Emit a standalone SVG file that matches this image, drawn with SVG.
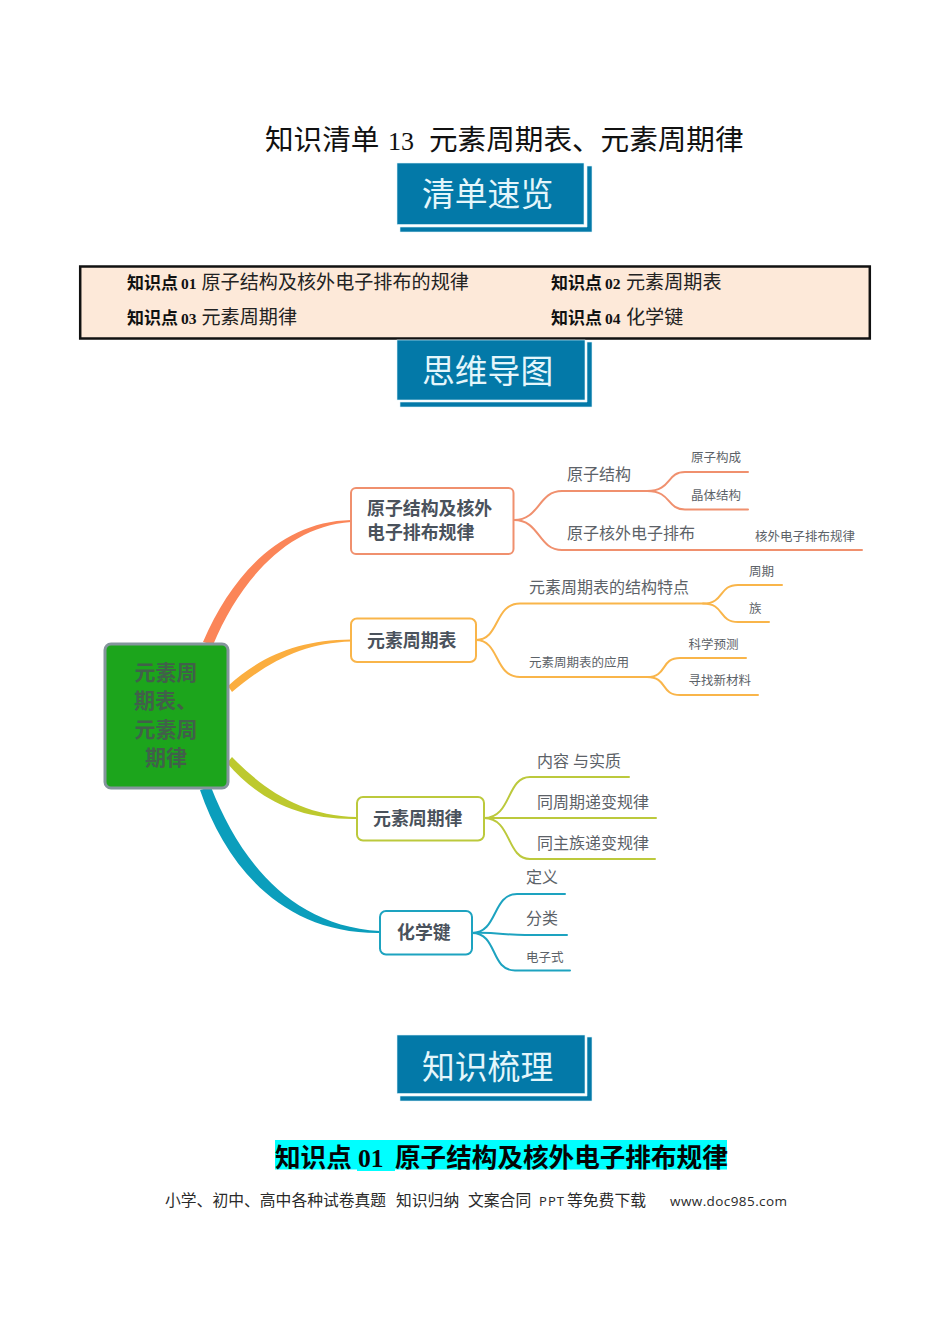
<svg xmlns="http://www.w3.org/2000/svg" width="950" height="1344" viewBox="0 0 950 1344">
<style>
text{font-family:"Noto Sans CJK SC","Noto Sans",sans-serif}
.num{font-family:"Liberation Serif","Noto Sans CJK SC",serif}
.lat{font-family:"Open Sans","Noto Sans",sans-serif;fill:#2a2a2a}
.ttl{font-size:28.6px;fill:#111}
.hd{font-size:32.8px;fill:#e4f6fb}
.hbox{fill:#0379a8;stroke:#dff4fa;stroke-width:.6}
.k{font-size:17px;font-weight:700;fill:#111}
.kn{font-size:15.5px;font-weight:700;fill:#111}
.kt{font-size:19.100px;fill:#222}
.node{fill:#fff;stroke-width:2}
.nt{font-size:17.900px;font-weight:700;fill:#4a525c}
.rt{font-size:21px;font-weight:700;fill:#41604a}
.s1{font-size:16px;fill:#5c6268}
.s2{font-size:12.500px;fill:#5c6268}
.l{fill:none;stroke-width:2;stroke-linecap:round}
.sec{font-size:25.600px;font-weight:700;fill:#050505}
.ft{font-size:15.800px;fill:#2a2a2a}
</style>
<rect width="950" height="1344" fill="#fff"/>
<text id="title" class="ttl" y="150"><tspan x="265">知识清单</tspan><tspan class="num" x="388" font-size="26">13</tspan><tspan x="429">元素周期表、元素周期律</tspan></text>

<g id="header-1">
<path class="hbox" d="M587 166H592V232H400V227H587Z"/>
<rect class="hbox" x="397" y="163" width="187" height="61.500"/>
<text class="hd" x="422" y="206">清单速览</text>
</g>

<g id="toc">
<rect x="80.200" y="266.500" width="789.600" height="72" fill="#fde9d9" stroke="#111" stroke-width="2.500"/>
<text class="k" x="127" y="289">知识点</text><text class="kn num" x="181" y="288.500">01</text><text class="kt" x="201.500" y="289">原子结构及核外电子排布的规律</text>
<text class="k" x="551" y="289">知识点</text><text class="kn num" x="605" y="288.500">02</text><text class="kt" x="626" y="289">元素周期表</text>
<text class="k" x="127" y="324">知识点</text><text class="kn num" x="181" y="323.500">03</text><text class="kt" x="201.500" y="324">元素周期律</text>
<text class="k" x="551" y="324">知识点</text><text class="kn num" x="605" y="323.500">04</text><text class="kt" x="626" y="324">化学键</text>
</g>

<g id="header-2">
<path class="hbox" d="M587 342H592V407H400V402H587Z"/>
<rect class="hbox" x="397" y="340" width="188" height="60"/>
<text class="hd" x="422" y="383">思维导图</text>
</g>

<g id="connectors">
<path fill="#fb8558" d="M203 642C232 575 280 522 351 520V522C288 526 240 580 213 645Z"/>
<path fill="#fbae3f" d="M228 686C262 655 300 640 351 639.500V641.500C305 643 270 660 232 692Z"/>
<path fill="#bdc92e" d="M232 757C264 790 302 816 357 817V819C298 820 258 799 227 763Z"/>
<path fill="#0b9ebc" d="M200 790C226 866 282 934 380 933V931C288 926 238 856 211 787Z"/>
<g stroke="#f0906e" class="l">
<path d="M514 520C540 520 538 491 562 491H647C672 491 666 472 685 472H748"/>
<path d="M647 491C672 491 666 509.500 685 509.500H748"/>
<path d="M514 520C540 520 538 550 562 550H862"/>
</g>
<g stroke="#f9b54a" class="l">
<path d="M476 640C500 640 494 603.500 520 603.500H703C725 603.500 718 585 738 585H782"/>
<path d="M703 603.500C725 603.500 718 622 738 622H769"/>
<path d="M476 640C500 640 494 677 520 677H647C668 677 660 658 680 658H746"/>
<path d="M647 677C668 677 660 695 680 695H758"/>
</g>
<g stroke="#bcc93c" class="l">
<path d="M484 818C512 818 506 777 530 777H629"/>
<path d="M484 818H656"/>
<path d="M484 818C512 818 506 859 530 859H655"/>
</g>
<g stroke="#1da3c0" class="l">
<path d="M472 933C498 933 492 894 517 894H565"/>
<path d="M472 933C495 932 505 935 525 935H567"/>
<path d="M472 933C498 933 490 970.500 515 970.500H570"/>
</g>
</g>

<g id="node-root">
<rect x="105" y="644" width="123" height="144" rx="6" fill="#1ca51c" stroke="#84959c" stroke-width="3"/>
<text class="rt" x="166" y="680" text-anchor="middle">元素周</text>
<text class="rt" x="134" y="708">期表、</text>
<text class="rt" x="166" y="737" text-anchor="middle">元素周</text>
<text class="rt" x="166" y="765" text-anchor="middle">期律</text>
</g>
<g id="node-1">
<rect class="node" stroke="#f0906e" x="351" y="488" width="162.500" height="66" rx="5"/>
<text class="nt" x="367" y="515">原子结构及核外</text>
<text class="nt" x="367" y="539">电子排布规律</text>
</g>
<g id="node-2">
<rect class="node" stroke="#f9b54a" x="351" y="618.500" width="125" height="43.500" rx="6"/>
<text class="nt" x="367" y="647">元素周期表</text>
</g>
<g id="node-3">
<rect class="node" stroke="#bcc93c" x="357" y="797" width="127" height="43.500" rx="6"/>
<text class="nt" x="373" y="825">元素周期律</text>
</g>
<g id="node-4">
<rect class="node" stroke="#1da3c0" x="380" y="911" width="92" height="43.500" rx="6"/>
<text class="nt" x="397" y="939">化学键</text>
</g>

<g id="labels">
<text class="s1" x="567" y="479.500">原子结构</text>
<text class="s1" x="567" y="539">原子核外电子排布</text>
<text class="s2" x="691" y="462">原子构成</text>
<text class="s2" x="691" y="500">晶体结构</text>
<text class="s2" x="755" y="541">核外电子排布规律</text>
<text class="s1" x="529" y="592.500">元素周期表的结构特点</text>
<text class="s2" x="749" y="576">周期</text>
<text class="s2" x="749" y="613">族</text>
<text class="s2" x="529" y="666.500">元素周期表的应用</text>
<text class="s2" x="688.500" y="648.500">科学预测</text>
<text class="s2" x="688.500" y="685">寻找新材料</text>
<text class="s1" x="537" y="766.500">内容</text><text class="s1" x="573" y="766.500">与实质</text>
<text class="s1" x="537" y="807.500">同周期递变规律</text>
<text class="s1" x="537" y="848.500">同主族递变规律</text>
<text class="s1" x="526" y="882.500">定义</text>
<text class="s1" x="526" y="923.500">分类</text>
<text class="s2" x="526" y="961.500">电子式</text>
</g>

<g id="header-3">
<path class="hbox" d="M587 1037H592V1101H400V1096H587Z"/>
<rect class="hbox" x="397" y="1035" width="188" height="58.500"/>
<text class="hd" x="422" y="1078.500">知识梳理</text>
</g>

<g id="section">
<rect x="275" y="1140" width="452" height="29.500" fill="#00ffff"/>
<rect x="357" y="1140" width="38" height="31" fill="#00ffff"/>
<text class="sec" x="275" y="1166.500">知识点</text>
<text class="sec num" x="358" y="1166.500">01</text>
<text class="sec" x="395" y="1166.500">原子结构及核外电子排布规律</text>
</g>

<g id="footer">
<text class="ft" x="165" y="1206">小学、初中、高中各种试卷真题</text>
<text class="ft" x="396" y="1206">知识归纳</text>
<text class="ft" x="468" y="1206">文案合同</text>
<text class="lat" x="539" y="1206" font-size="13" textLength="25">PPT</text>
<text class="ft" x="567" y="1206">等免费下载</text>
<text class="lat" x="670" y="1206" font-size="13.500" textLength="117">www.doc985.com</text>
</g>
</svg>
